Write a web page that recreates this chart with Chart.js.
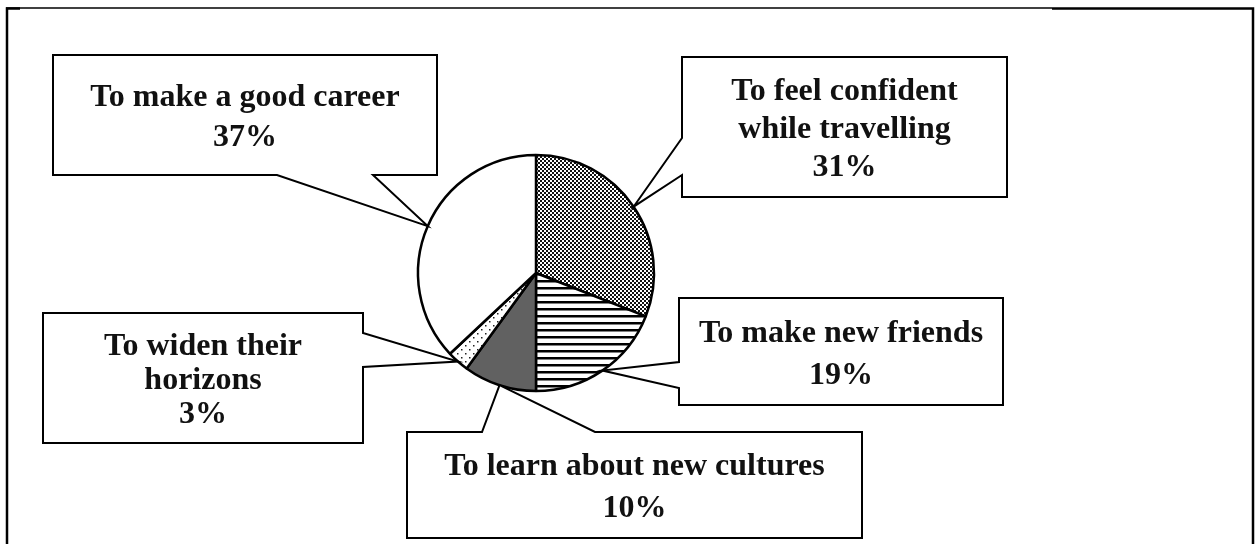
<!DOCTYPE html>
<html>
<head>
<meta charset="utf-8">
<script src="https://cdn.jsdelivr.net/npm/chart.js@4/dist/chart.umd.min.js"></script>
<style>
  html, body { margin: 0; padding: 0; background: #fff; }
  #chartCanvas { display: block; }
</style>
</head>
<body>
<canvas id="chartCanvas" width="1259" height="544"></canvas>
<script>
// data (slices clockwise from 12 o'clock)
const categories = [
    ["To feel confident", "while travelling"],
    ["To make new friends"],
    ["To learn about new cultures"],
    ["To widen their", "horizons"],
    ["To make a good career"],
];
const shares = [31, 19, 10, 3, 37];

// callout boxes: box rect, which edge the pointer leaves from, notch span on that edge
const callouts = [
    { box: [682, 57, 325, 140], side: "left", notch: [138, 175], lineH: 38 },
    { box: [679, 298, 324, 107], side: "left", notch: [362, 388], lineH: 42 },
    { box: [407, 432, 455, 106], side: "top", notch: [482, 595], lineH: 42 },
    { box: [43, 313, 320, 130], side: "right", notch: [333, 367], lineH: 34 },
    { box: [53, 55, 384, 120], side: "bottom", notch: [277, 373], lineH: 40 },
];

const FONT = "bold 32px 'Liberation Serif', 'Times New Roman', serif";

// fill patterns
const makePattern = (size, draw) => {
    const c = document.createElement("canvas");
    c.width = size;
    c.height = size;
    const g = c.getContext("2d");
    draw(g);
    return g.createPattern(c, "repeat");
};

// fine checker, reads as mid grey
const checkered = makePattern(4, (g) => {
    g.fillStyle = "#fff";
    g.fillRect(0, 0, 4, 4);
    g.fillStyle = "#111";
    g.fillRect(0, 0, 2, 2);
    g.fillRect(2, 2, 2, 2);
});

const stripes = makePattern(7, (g) => {
    g.fillStyle = "#fff";
    g.fillRect(0, 0, 7, 7);
    g.fillStyle = "#000";
    g.fillRect(0, 0, 7, 2.5);
});

const sparseDots = makePattern(8, (g) => {
    g.fillStyle = "#fff";
    g.fillRect(0, 0, 8, 8);
    g.fillStyle = "#222";
    g.fillRect(1, 1, 1.5, 1.5);
    g.fillRect(5, 5, 1.5, 1.5);
});

const fills = [checkered, stripes, "#616161", sparseDots, "#ffffff"];

const calloutPlugin = {
    id: "callouts",
    afterDatasetsDraw(chart) {
        const ctx = chart.ctx;
        const arcs = chart.getDatasetMeta(0).data;
        ctx.save();

        // page frame
        ctx.strokeStyle = "#000";
        ctx.lineWidth = 1.5;
        ctx.beginPath();
        ctx.moveTo(6, 8);
        ctx.lineTo(1052, 8);
        ctx.stroke();
        ctx.lineWidth = 2.5;
        ctx.beginPath();
        ctx.moveTo(7, 544);
        ctx.lineTo(7, 8.5);
        ctx.lineTo(20, 8.5);
        ctx.moveTo(1052, 8.5);
        ctx.lineTo(1253, 8.5);
        ctx.lineTo(1253, 544);
        ctx.stroke();

        callouts.forEach((c, i) => {
            const arc = arcs[i];
            const mid = (arc.startAngle + arc.endAngle) / 2;
            const tx = arc.x + Math.cos(mid) * arc.outerRadius;
            const ty = arc.y + Math.sin(mid) * arc.outerRadius;
            const [x, y, w, h] = c.box;
            const [a, b] = c.notch;

            ctx.beginPath();
            ctx.moveTo(x, y);
            if (c.side === "top") {
                ctx.lineTo(a, y); ctx.lineTo(tx, ty); ctx.lineTo(b, y);
            }
            ctx.lineTo(x + w, y);
            if (c.side === "right") {
                ctx.lineTo(x + w, a); ctx.lineTo(tx, ty); ctx.lineTo(x + w, b);
            }
            ctx.lineTo(x + w, y + h);
            if (c.side === "bottom") {
                ctx.lineTo(b, y + h); ctx.lineTo(tx, ty); ctx.lineTo(a, y + h);
            }
            ctx.lineTo(x, y + h);
            if (c.side === "left") {
                ctx.lineTo(x, b); ctx.lineTo(tx, ty); ctx.lineTo(x, a);
            }
            ctx.closePath();
            ctx.fillStyle = "#fff";
            ctx.fill();
            ctx.lineWidth = 2;
            ctx.strokeStyle = "#000";
            ctx.stroke();

            const lines = [...categories[i], shares[i] + "%"];
            ctx.fillStyle = "#111";
            ctx.font = FONT;
            ctx.textAlign = "center";
            ctx.textBaseline = "middle";
            const cy = y + h / 2 + 3;
            lines.forEach((t, k) => {
                ctx.fillText(t, x + w / 2, cy + (k - (lines.length - 1) / 2) * c.lineH);
            });
        });
        ctx.restore();
    },
};

new Chart(document.getElementById("chartCanvas").getContext("2d"), {
    type: "pie",
    data: {
        labels: categories,
        datasets: [
            {
                data: shares,
                backgroundColor: fills,
                borderColor: "#000",
                borderWidth: 2.5,
            },
        ],
    },
    options: {
        responsive: false,
        animation: false,
        radius: 118,
        layout: { padding: { left: 300, right: 487, top: 100, bottom: 98 } },
        plugins: {
            legend: { display: false },
            tooltip: { enabled: false },
        },
    },
    plugins: [calloutPlugin],
});
</script>
</body>
</html>
